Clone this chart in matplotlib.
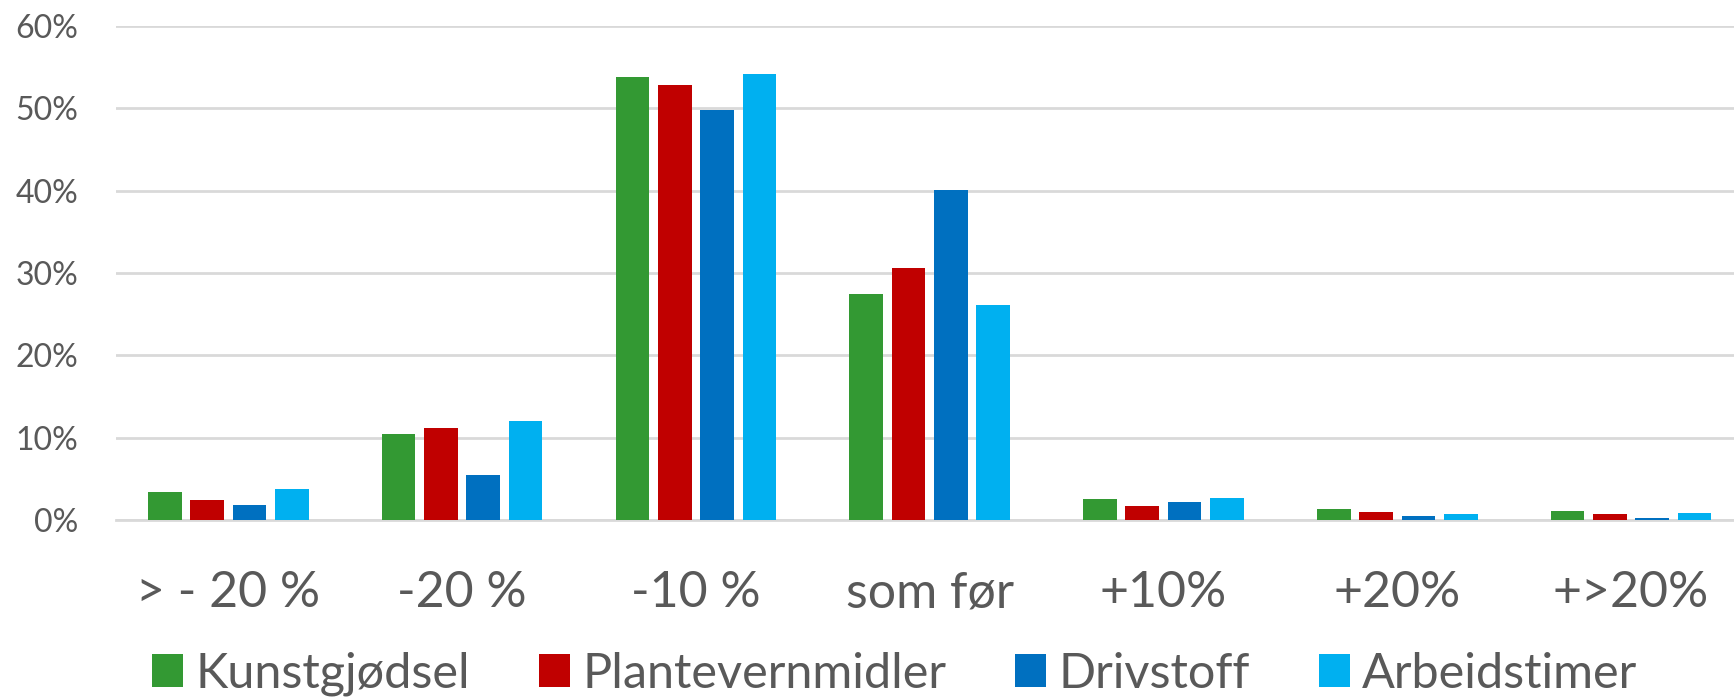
import numpy as np
from matplotlib import pyplot as plt
from matplotlib.patches import Patch

plt.rcParams['font.family'] = ['Lato', 'DejaVu Sans']

categories = ['> - 20 %', '-20 %', '-10 %', 'som før', '+10%', '+20%', '+>20%']
series_names = ['Kunstgjødsel', 'Plantevernmidler', 'Drivstoff', 'Arbeidstimer']
kunstgjodsel = [3.4, 10.5, 53.8, 27.5, 2.6, 1.4, 1.05]
plantevern = [2.4, 11.2, 52.8, 30.6, 1.7, 1.0, 0.7]
drivstoff = [1.8, 5.5, 49.8, 40.1, 2.2, 0.5, 0.3]
arbeidstimer = [3.8, 12.0, 54.1, 26.1, 2.7, 0.7, 0.8]
colors = ['#339933', '#C00000', '#0070C0', '#00B0F0']

text_col = '#595959'
grid_col = '#D9D9D9'

fig = plt.figure(figsize=(17.34, 6.99), dpi=100)
ax = fig.add_axes([0.0669, 0.256, 0.9331, 0.707])

x = np.arange(len(categories))
pitch = 0.181
width = 0.144
for i, (vals, col) in enumerate(zip([kunstgjodsel, plantevern, drivstoff, arbeidstimer], colors)):
    ax.bar(x + (i - 1.5) * pitch, np.array(vals) / 100.0, width=width, color=col, zorder=3)

ax.set_ylim(0, 0.6)
ax.set_xlim(-0.48, 6.44)
ax.set_yticks(np.arange(0, 0.61, 0.1))
ax.set_yticklabels(['{:d}%'.format(int(round(v * 100))) for v in np.arange(0, 0.61, 0.1)])
ax.set_xticks(x)
ax.set_xticklabels(categories)
ax.yaxis.grid(True, color=grid_col, linewidth=2, zorder=0)
for s in ['top', 'right', 'left']:
    ax.spines[s].set_visible(False)
ax.spines['bottom'].set_color(grid_col)
ax.spines['bottom'].set_linewidth(2)
ax.tick_params(axis='both', length=0)
ax.tick_params(axis='y', labelsize=23, labelcolor=text_col, pad=27)
ax.tick_params(axis='x', labelsize=36, labelcolor=text_col, pad=36)

handles = [Patch(facecolor=c, edgecolor='none') for c in colors]
fig.legend(handles, series_names, loc='center', bbox_to_anchor=(0.516, 0.036), ncol=4,
           frameon=False, fontsize=35, handlelength=0.64, handleheight=0.64,
           handletextpad=0.25, columnspacing=1.42, labelcolor=text_col, borderaxespad=0)

plt.savefig('out.png', dpi=100, facecolor='w')
